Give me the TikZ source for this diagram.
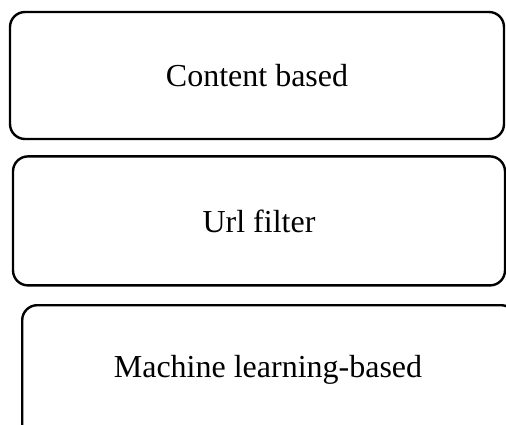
\documentclass[tikz,border=0pt]{standalone}
\usepackage{fontspec}
\setmainfont{Liberation Serif}
\usetikzlibrary{positioning}

\begin{document}
\begin{tikzpicture}[x=1pt, y=-1pt,
	box/.style = {draw, line width=2.4pt, rounded corners=15pt, align=center},
	label text/.style = {font=\fontsize{32}{38}\selectfont},
	]
	\useasboundingbox (0,0) rectangle (506,425);
	
	% the three filtering approaches, stacked
	\node[box, label text, minimum width=494pt, minimum height=127pt] (content) at (257,75.5) {Content based};
	\node[box, label text, minimum width=492pt, minimum height=129pt, below=15pt of content, xshift=2pt] (url) {Url filter};
	
	% last box runs past the bottom edge, so its text sits on its own
	\node[box, minimum width=494pt, minimum height=140pt, anchor=north west] (ml) at (21,304) {};
	\node[label text] (mltext) at (268,370) {Machine learning-based};
\end{tikzpicture}
\end{document}
